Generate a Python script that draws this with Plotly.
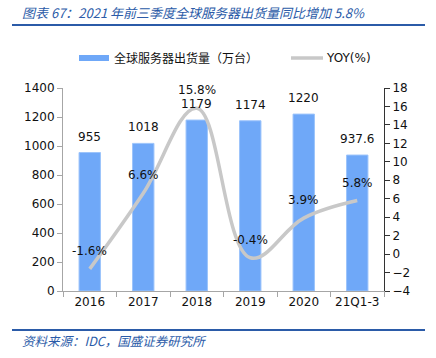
import plotly.graph_objects as go

categories = ["2016", "2017", "2018", "2019", "2020", "21Q1-3"]
shipments = [955, 1018, 1179, 1174, 1220, 937.6]
shipment_labels = ["955", "1018", "1179", "1174", "1220", "937.6"]
yoy = [-1.6, 6.6, 15.8, -0.4, 3.9, 5.8]
yoy_labels = ["-1.6%", "6.6%", "15.8%", "-0.4%", "3.9%", "5.8%"]
left_ticks = [0, 200, 400, 600, 800, 1000, 1200, 1400]
right_ticks = [-4, -2, 0, 2, 4, 6, 8, 10, 12, 14, 16, 18]

W, H = 436, 358
L, R, T, B = 63, 384, 88, 291
def px(x): return (x - L) / (R - L)
def py(y): return (B - y) / (B - T)

BAR = "#6fa8f8"
LINE = "#c8c8c8"
BLUE = "#2b5ba8"
FONT = "DejaVu Sans"

fig = go.Figure()
fig.add_trace(go.Bar(x=categories, y=shipments, marker=dict(color=BAR, line=dict(color="#9cc4fb", width=1)),
                     width=0.4, yaxis="y", showlegend=False, hoverinfo="skip"))
fig.add_trace(go.Scatter(x=categories, y=yoy, mode="lines", yaxis="y2",
                         line=dict(color=LINE, width=3.5, shape="spline", smoothing=1.1),
                         showlegend=False, hoverinfo="skip"))

anns = []
for i, (v, t) in enumerate(zip(shipments, shipment_labels)):
    anns.append(dict(x=i, y=v, xref="x", yref="y", text=t, showarrow=False,
                     yanchor="bottom", yshift=7, font=dict(size=12, color="#111", family=FONT)))
for i, (v, t) in enumerate(zip(yoy, yoy_labels)):
    anns.append(dict(x=i, y=v, xref="x", yref="y2", text=t, showarrow=False,
                     yanchor="middle", yshift=18, font=dict(size=12, color="#111", family=FONT)))

# title and source
anns.append(dict(x=px(20), y=py(12), xref="paper", yref="paper", xanchor="left", yanchor="middle",
                 text="<i>图表 67：2021 年前三季度全球服务器出货量同比增加 5.8%</i>", showarrow=False,
                 font=dict(size=13, color=BLUE, family="Noto Sans CJK SC")))
anns.append(dict(x=px(20), y=py(340), xref="paper", yref="paper", xanchor="left", yanchor="middle",
                 text="<i>资料来源：IDC，国盛证券研究所</i>", showarrow=False,
                 font=dict(size=12.5, color=BLUE, family="Noto Sans CJK SC")))
# legend
anns.append(dict(x=px(112), y=py(58), xref="paper", yref="paper", xanchor="left", yanchor="middle",
                 text="全球服务器出货量（万台）", showarrow=False,
                 font=dict(size=12, color="#111", family="Noto Sans CJK SC")))
anns.append(dict(x=px(324), y=py(58), xref="paper", yref="paper", xanchor="left", yanchor="middle",
                 text="YOY(%)", showarrow=False, font=dict(size=12, color="#111", family=FONT)))

shapes = [
    dict(type="line", xref="paper", yref="paper", x0=px(12), x1=px(425), y0=py(25), y1=py(25),
         line=dict(color=BLUE, width=2)),
    dict(type="line", xref="paper", yref="paper", x0=px(12), x1=px(425), y0=py(330), y1=py(330),
         line=dict(color=BLUE, width=2)),
    dict(type="rect", xref="paper", yref="paper", x0=px(79), x1=px(109), y0=py(61), y1=py(55),
         fillcolor=BAR, line=dict(width=0)),
    dict(type="line", xref="paper", yref="paper", x0=px(291), x1=px(323), y0=py(58), y1=py(58),
         line=dict(color=LINE, width=3.5)),
]

fig.update_layout(
    width=W, height=H,
    margin=dict(l=L, r=W - R, t=T, b=H - B, pad=0, autoexpand=False),
    plot_bgcolor="white", paper_bgcolor="white",
    font=dict(family=FONT, size=12, color="#111"),
    xaxis=dict(type="category", categoryorder="array", categoryarray=categories, range=[-0.5, 5.5],
               showline=True, linecolor="#a6a6a6", linewidth=1, automargin=False,
               ticks="outside", tickson="boundaries", ticklen=5, tickcolor="#a6a6a6",
               showgrid=False, tickfont=dict(size=12), tickangle=0),
    yaxis=dict(range=[0, 1400], tickvals=left_ticks, showline=True, linecolor="#a6a6a6", linewidth=1,
               ticks="outside", ticklen=5, tickcolor="#a6a6a6", showgrid=False, zeroline=False,
               tickfont=dict(size=12), automargin=False),
    yaxis2=dict(range=[-4, 18], tickvals=right_ticks, ticksuffix="%", overlaying="y", side="right",
                showline=True, linecolor="#333", linewidth=1, ticks="outside", ticklen=5,
                tickcolor="#333", showgrid=False, zeroline=False, tickfont=dict(size=12),
                automargin=False),
    annotations=anns, shapes=shapes,
)
fig.write_html("out.html", config={"displayModeBar": False, "staticPlot": True},
               post_script="document.body.style.margin='0';document.body.style.overflow='hidden';")
